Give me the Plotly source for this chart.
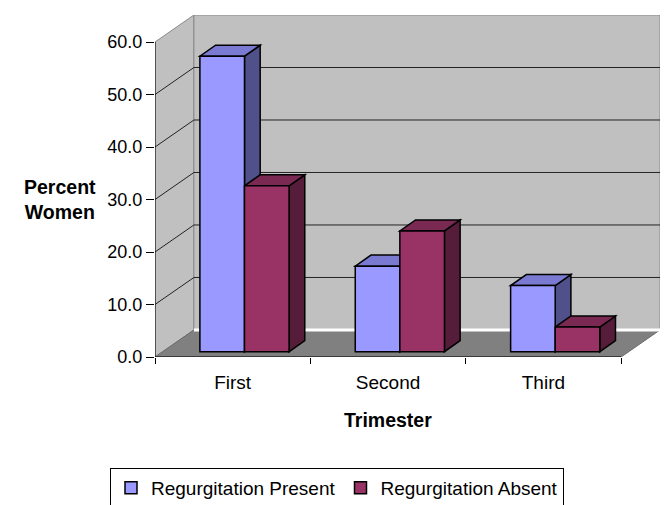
import plotly.graph_objects as go

# ---- data ----
trimesters = ["First", "Second", "Third"]
present = [56.3, 16.3, 12.6]
absent = [31.6, 23.0, 4.7]
y_ticks = [0, 10, 20, 30, 40, 50, 60]

series = [
    ("Regurgitation Present", present, "#9999FF", "#7A7AD2", "#50508A"),
    ("Regurgitation Absent", absent, "#993366", "#7A2952", "#561D3A"),
]

# ---- oblique-projection geometry (x in category units, y in value units) ----
N = len(trimesters)
YMAX = 60
DX, DY = 0.2505, 5.15          # depth of the walls / floor
BAR_X0, BAR_W = 0.289, 0.287   # front-face offset and width inside a category
BAR_BASE = 1.01                # front faces sit a little behind the front plane
BDX, BDY = 0.101, 2.1          # depth of each bar

FONT = "Liberation Sans, Arial, sans-serif"

# plot-area placement (pixels)
W, H = 668, 505
L, R, T, B = 155, 8, 15, 148
PLOT_H = H - T - B


def path(points):
    return "M " + " L ".join(f"{x},{y}" for x, y in points) + " Z"


def py(px):
    """paper y for a pixel row"""
    return (H - B - px) / PLOT_H


def px_(px):
    """paper x for a pixel column"""
    return (px - L) / (W - L - R)


shapes = []
# walls and floor
shapes.append(dict(type="path", path=path([(0, 0), (0, YMAX), (DX, YMAX + DY), (DX, DY)]),
                   fillcolor="#C0C0C0", line=dict(color="#8A8A8A", width=1)))
shapes.append(dict(type="path", path=path([(DX, DY), (N + DX, DY), (N + DX, YMAX + DY), (DX, YMAX + DY)]),
                   fillcolor="#C0C0C0", line=dict(color="#8A8A8A", width=1)))
shapes.append(dict(type="path", path=path([(0, 0), (N, 0), (N + DX, DY), (DX, DY)]),
                   fillcolor="#808080", line=dict(color="#6A6A6A", width=1)))
shapes.append(dict(type="line", x0=DX, y0=DY, x1=N + DX, y1=DY,
                   line=dict(color="white", width=3)))
# gridlines on left and back walls
for v in y_ticks[1:-1]:
    shapes.append(dict(type="line", x0=0, y0=v, x1=DX, y1=v + DY,
                       line=dict(color="#222222", width=1)))
    shapes.append(dict(type="line", x0=DX, y0=v + DY, x1=N + DX, y1=v + DY,
                       line=dict(color="#222222", width=1)))
# front axis lines
shapes.append(dict(type="line", x0=0, y0=0, x1=0, y1=YMAX, line=dict(color="black", width=1)))
shapes.append(dict(type="line", x0=0, y0=0, x1=N, y1=0, line=dict(color="black", width=1)))

# side and top faces of the columns (front faces are the bar traces)
for i in range(N):
    for k, (_, vals, _, top_c, side_c) in enumerate(series):
        xl = i + BAR_X0 + k * BAR_W
        xr = xl + BAR_W
        b, t = BAR_BASE, BAR_BASE + vals[i]
        shapes.append(dict(type="path",
                           path=path([(xr, b), (xr, t), (xr + BDX, t + BDY), (xr + BDX, b + BDY)]),
                           fillcolor=side_c, line=dict(color="black", width=1.5)))
        shapes.append(dict(type="path",
                           path=path([(xl, t), (xr, t), (xr + BDX, t + BDY), (xl + BDX, t + BDY)]),
                           fillcolor=top_c, line=dict(color="black", width=1.5)))

for s in shapes:
    s.update(xref="x", yref="y", layer="below")

fig = go.Figure()
for k, (name, vals, front_c, _, _) in enumerate(series):
    fig.add_trace(go.Bar(
        name=name,
        x=[i + BAR_X0 + k * BAR_W + BAR_W / 2 for i in range(N)],
        y=vals,
        base=BAR_BASE,
        width=BAR_W,
        marker=dict(color=front_c, line=dict(color="black", width=1.5)),
    ))

fig.update_layout(
    width=W, height=H,
    margin=dict(l=L, r=R, t=T, b=B, autoexpand=False),
    paper_bgcolor="white", plot_bgcolor="white",
    barmode="overlay",
    showlegend=True,
    font=dict(family=FONT, size=18, color="black"),
    shapes=shapes,
    xaxis=dict(
        range=[0, N + DX], tickmode="array",
        tickvals=[i + 0.5 for i in range(N)], ticktext=trimesters,
        ticks="", showgrid=False, zeroline=False, showline=False,
        ticklabelstandoff=12, automargin=False,
        minor=dict(tickmode="array", tickvals=list(range(N + 1)), ticks="outside",
                   ticklen=6, tickcolor="black", showgrid=False),
        tickfont=dict(family=FONT, size=19, color="black"),
    ),
    yaxis=dict(
        range=[0, YMAX + DY], tickmode="array",
        tickvals=y_ticks, ticktext=[f"{v:.1f}" for v in y_ticks],
        ticks="outside", ticklen=8, tickcolor="black",
        showgrid=False, zeroline=False, showline=False, automargin=False,
        tickfont=dict(family=FONT, size=18, color="black"),
    ),
    legend=dict(
        orientation="h", x=px_(337), xanchor="center", y=py(468), yanchor="top",
        bordercolor="black", borderwidth=1, bgcolor="white",
        font=dict(family=FONT, size=19, color="black"),
        traceorder="normal",
    ),
    annotations=[
        dict(text="<b>Percent<br>Women</b>", xref="paper", yref="paper",
             x=px_(60), y=py(199), xanchor="center", yanchor="middle",
             showarrow=False, align="center", font=dict(family=FONT, size=19.5)),
        dict(text="<b>Trimester</b>", xref="x", yref="paper",
             x=N / 2, y=py(420), xanchor="center", yanchor="middle",
             showarrow=False, font=dict(family=FONT, size=19.5)),
    ],
)

fig.write_html("out.html")
